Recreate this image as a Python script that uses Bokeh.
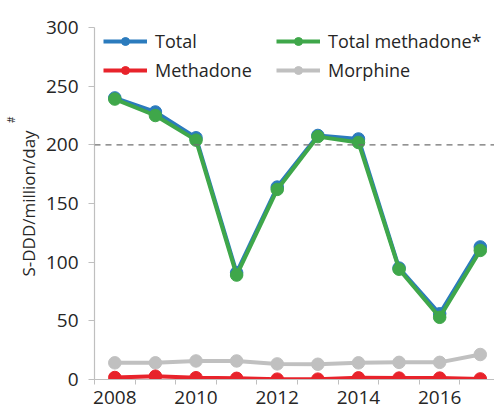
from bokeh.plotting import figure
from bokeh.models import FixedTicker, Legend, LegendItem, Span, Title, Range1d
from bokeh.embed import file_html
from bokeh.resources import INLINE

years = [2008, 2009, 2010, 2011, 2012, 2013, 2014, 2015, 2016, 2017]
total = [240, 228, 206, 91, 164, 208, 205, 95, 56, 113]
total_methadone = [239, 225, 204, 89, 162, 207, 202, 94, 53, 110]
methadone = [1.7, 2.8, 1.5, 1.0, 0.3, 0.3, 1.4, 1.2, 1.2, 0.5]
morphine = [14.2, 14.2, 15.8, 15.8, 13.3, 13.0, 14.2, 14.6, 14.6, 21.3]
y_ticks = [0, 50, 100, 150, 200, 250, 300]
x_label_years = [2008, 2010, 2012, 2014, 2016]
threshold = 200

FONT = "Open Sans"
TXT = "#262626"
AX = "#bfbfbf"

p = figure(width=494, height=412, output_backend="svg", toolbar_location=None,
           x_range=Range1d(years[0] - 0.5, 2017.35), y_range=Range1d(0, 300),
           min_border_left=94, min_border_top=27, min_border_right=0, min_border_bottom=33)
p.outline_line_color = None
p.xgrid.visible = False
p.ygrid.visible = False
p.background_fill_color = "white"
p.border_fill_color = "white"

p.add_layout(Span(location=threshold, dimension="width", line_color="#707070",
                  line_width=1.3, line_dash="6 5"))

colors = {"Total": "#2b7bbd", "Total methadone*": "#3fa74a",
          "Methadone": "#e8232b", "Morphine": "#c0c0c0"}
series = [("Total", total), ("Total methadone*", total_methadone),
          ("Morphine", morphine), ("Methadone", methadone)]
rends = {}
for name, vals in series:
    c = colors[name]
    l = p.line(years, vals, line_color=c, line_width=4)
    s = p.scatter(years, vals, size=12.5, fill_color=c, line_color=c)
    rends[name] = [l, s]

xa = p.xaxis[0]
xa.ticker = FixedTicker(ticks=x_label_years, minor_ticks=[y - 0.5 for y in years] + [2017.5])
xa.major_tick_line_color = None
xa.major_tick_out = 5
xa.major_tick_in = 0
xa.minor_tick_line_color = AX
xa.minor_tick_out = 5
xa.minor_tick_in = 0
xa.axis_line_color = AX
xa.axis_line_width = 1.2
xa.major_label_text_font = FONT
xa.major_label_text_font_size = "19px"
xa.major_label_text_color = TXT
xa.major_label_standoff = 6

ya = p.yaxis[0]
ya.ticker = FixedTicker(ticks=y_ticks, minor_ticks=[])
ya.major_tick_line_color = AX
ya.major_tick_out = 6
ya.major_tick_in = 0
ya.axis_line_color = AX
ya.axis_line_width = 1.2
ya.major_label_text_font = FONT
ya.major_label_text_font_size = "19px"
ya.major_label_text_color = TXT
ya.major_label_standoff = 10
ya.axis_label = "S-DDD/million/day"
ya.axis_label_text_font = FONT
ya.axis_label_text_font_size = "17px"
ya.axis_label_text_font_style = "normal"
ya.axis_label_text_color = TXT
ya.axis_label_standoff = 3

sup = Title(text="#", text_font=FONT, text_font_size="10px", text_color=TXT,
            text_font_style="normal", align="right", offset=89, standoff=-9)
p.add_layout(sup, "left")

common = dict(border_line_color=None, background_fill_alpha=0, label_text_font=FONT,
              label_text_font_size="18px", label_text_color=TXT, glyph_width=44,
              glyph_height=20, label_standoff=8, spacing=5, padding=4, margin=0)
leg1 = Legend(items=[LegendItem(label=n, renderers=rends[n]) for n in ["Total", "Methadone"]],
              location=(9, 297), **common)
leg2 = Legend(items=[LegendItem(label=n, renderers=rends[n]) for n in ["Total methadone*", "Morphine"]],
              location=(182, 297), **common)
p.add_layout(leg1)
p.add_layout(leg2)

open("out.html", "w").write(file_html(p, INLINE))
